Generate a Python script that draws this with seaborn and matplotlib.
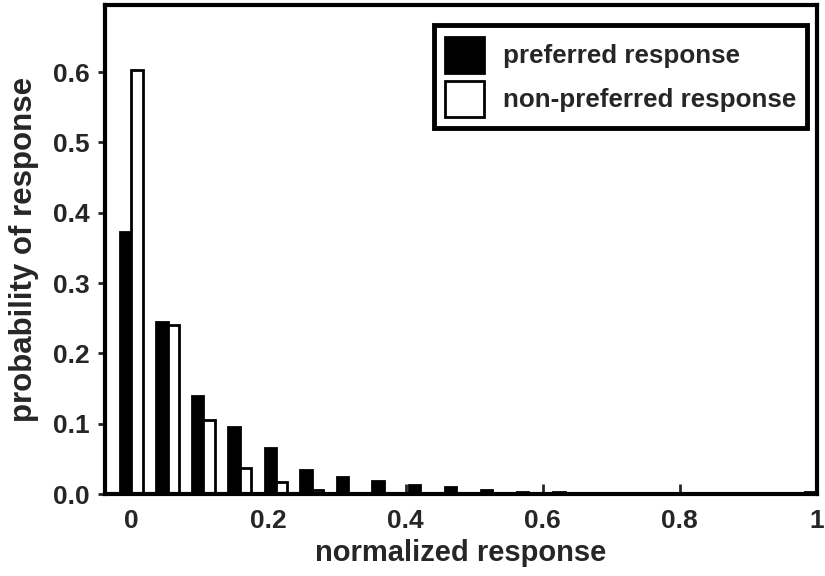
import matplotlib
matplotlib.use("Agg")
import matplotlib.pyplot as plt
import seaborn as sns
import pandas as pd

# bin centres (20 bins spanning 0..1) and probability per bin
bin_centers = [0.0, 0.053, 0.105, 0.158, 0.211, 0.263, 0.316, 0.368, 0.421, 0.474,
               0.526, 0.579, 0.632, 0.684, 0.737, 0.789, 0.842, 0.895, 0.947, 1.0]
preferred = [0.373, 0.245, 0.139, 0.095, 0.065, 0.034, 0.024, 0.019, 0.013, 0.010,
             0.006, 0.003, 0.003, 0.002, 0.0015, 0.001, 0.001, 0.001, 0.001, 0.003]
non_preferred = [0.603, 0.240, 0.106, 0.037, 0.018, 0.006, 0.002, 0.002, 0.002, 0.001,
                 0.001, 0.001, 0.001, 0.0005, 0.0005, 0.0005, 0.0005, 0.0005, 0.0005, 0.0005]
series_names = ["preferred response", "non-preferred response"]
x_ticks = [0, 0.2, 0.4, 0.6, 0.8, 1.0]
x_tick_labels = ["0", "0.2", "0.4", "0.6", "0.8", "1"]
y_ticks = [0.0, 0.1, 0.2, 0.3, 0.4, 0.5, 0.6]

df = pd.DataFrame({
    "center": bin_centers * 2,
    "prob": preferred + non_preferred,
    "series": [series_names[0]] * len(bin_centers) + [series_names[1]] * len(bin_centers),
})

sns.set_theme(style="ticks")
plt.rcParams["font.family"] = ["Liberation Sans", "DejaVu Sans"]
plt.rcParams["font.weight"] = "bold"

fig = plt.figure(figsize=(8.25, 5.76), dpi=100)
ax = fig.add_axes([0.127, 0.142, 0.863, 0.849])

sns.barplot(data=df, x="center", y="prob", hue="series", native_scale=True,
            palette={series_names[0]: "black", series_names[1]: "white"},
            edgecolor="black", linewidth=2, width=0.64, dodge=True, ax=ax,
            errorbar=None)

ax.set_xlim(-0.039, 1.0)
ax.set_ylim(0, 0.695)
ax.set_xticks(x_ticks)
ax.set_xticklabels(x_tick_labels)
ax.set_yticks(y_ticks)
ax.set_yticklabels([f"{v:.1f}" for v in y_ticks])

for s in ax.spines.values():
    s.set_linewidth(3)
    s.set_color("black")
    s.set_visible(True)

ax.tick_params(axis="x", direction="in", length=7, width=2, pad=11, labelsize=19)
ax.tick_params(axis="y", direction="out", length=5, width=2, pad=6, labelsize=19)
for lab in ax.get_xticklabels() + ax.get_yticklabels():
    lab.set_fontweight("bold")

ax.set_xlabel("normalized response", fontsize=21, fontweight="bold", labelpad=4)
ax.set_ylabel("probability of response", fontsize=22.5, fontweight="bold", labelpad=10)

leg = ax.legend(loc="upper right", bbox_to_anchor=(0.987, 0.959), borderaxespad=0,
                frameon=True, fancybox=False, fontsize=18.7, handlelength=1.5,
                handleheight=1.75, handletextpad=0.7, labelspacing=0.3,
                borderpad=0.45, framealpha=1, title=None)
leg.get_frame().set_edgecolor("black")
leg.get_frame().set_linewidth(3.5)
for t in leg.get_texts():
    t.set_fontweight("bold")

fig.savefig("out.png", dpi=100)
